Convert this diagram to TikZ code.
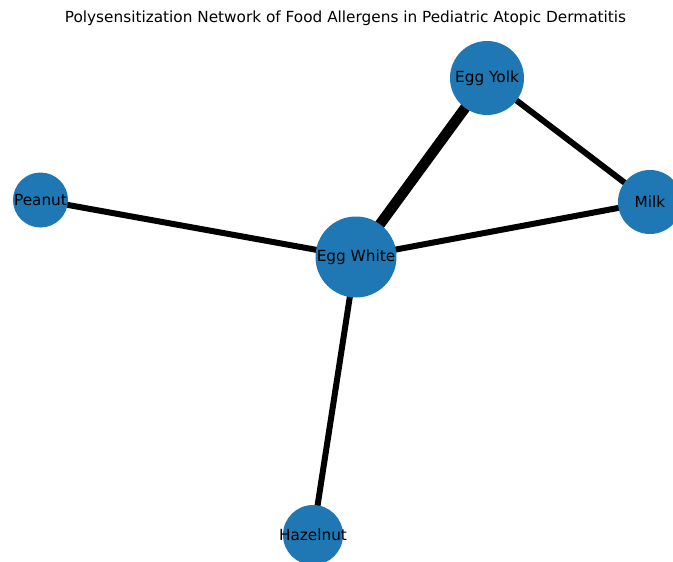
\documentclass[tikz,border=0pt]{standalone}
\usepackage{fontspec}
\setmainfont{DejaVu Sans}
\usetikzlibrary{backgrounds}
\definecolor{nodeblue}{HTML}{1F77B4}

\begin{document}
\begin{tikzpicture}[x = 1pt, y = -1pt, font = \fontsize{15.3}{18}\selectfont,
	allergen/.style = {circle, fill = nodeblue, inner sep = 0pt, minimum size = #1},
	link/.style = {line width = #1, black}]
	
	\useasboundingbox (0, 0) rectangle (673, 562);
	
	% Title
	
	\node (title) at (345.5, 18) {Polysensitization Network of Food Allergens in Pediatric Atopic Dermatitis};
	
	% Allergen nodes w labels
	
	\node [allergen = 74pt, label = center:Egg Yolk] (yolk) at (487, 78) {};
	\node [allergen = 64pt, label = center:Milk] (milk) at (650, 202) {};
	\node [allergen = 55pt, label = center:Peanut] (peanut) at (40.5, 200) {};
	\node [allergen = 81pt, label = center:Egg White] (white) at (356, 257) {};
	\node [allergen = 60pt, label = center:Hazelnut] (hazelnut) at (313, 535) {};
	
	% Co-sensitization edges, behind the nodes
	
	\begin{scope}[on background layer]
		\draw [link = 10.5pt] (white.center) -- (yolk.center);
		
		\foreach \a/\b in {yolk/milk, white/milk, peanut/white, white/hazelnut}
			\draw [link = 6pt] (\a.center) -- (\b.center);
	\end{scope}
	
\end{tikzpicture}
\end{document}
